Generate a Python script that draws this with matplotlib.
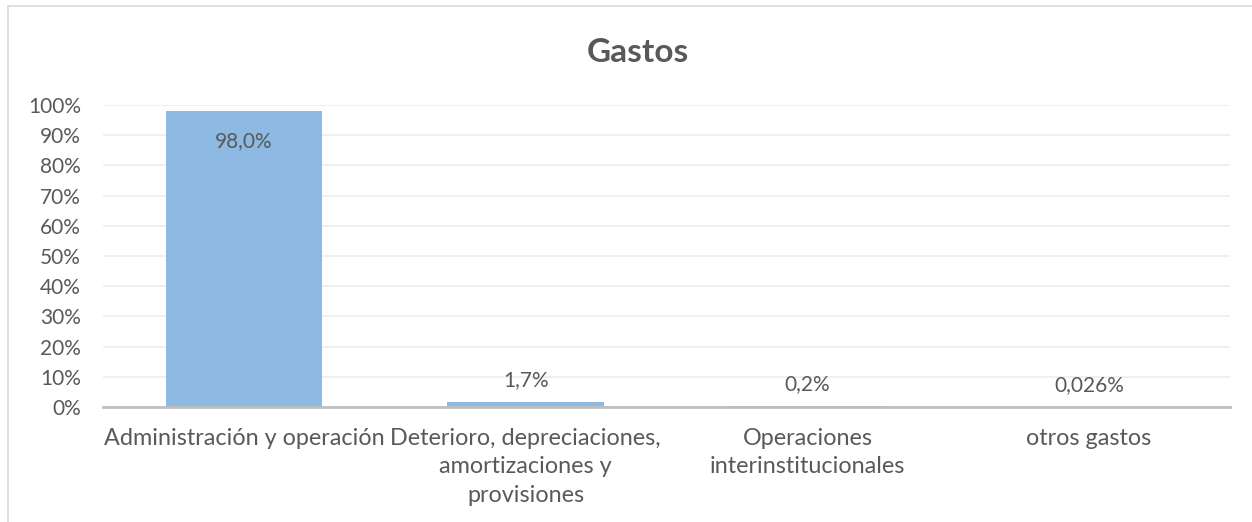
import matplotlib.pyplot as plt
from matplotlib.patches import Rectangle
from matplotlib.ticker import FuncFormatter

categorias = ["Administración y operación",
              "Deterioro, depreciaciones,\namortizaciones y\nprovisiones",
              "Operaciones\ninterinstitucionales",
              "otros gastos"]
valores = [98.0, 1.7, 0.2, 0.026]
etiquetas = ["98,0%", "1,7%", "0,2%", "0,026%"]

GRIS = "#595959"
AZUL = "#8DB9E2"
plt.rcParams['font.family'] = ['Lato', 'DejaVu Sans']

fig = plt.figure(figsize=(12.52, 5.22), dpi=100)
ax = fig.add_axes([103/1252, 1 - 407/522, 1127/1252, 302/522])

x = range(len(categorias))
ax.bar(x, valores, width=0.555, color=AZUL, zorder=2)
ax.set_xlim(-0.5, len(categorias) - 0.5)
ax.set_ylim(0, 100)
ax.set_yticks(range(0, 101, 10))
ax.yaxis.set_major_formatter(FuncFormatter(lambda v, _: f"{int(v)}%"))
ax.grid(axis='y', color="#EFEFEF", linewidth=1.3, zorder=0)
ax.set_xticks(list(x))
ax.set_xticklabels(categorias, fontsize=16.8, color=GRIS, linespacing=1.45, va='top')
ax.tick_params(axis='x', length=0, pad=15)
ax.tick_params(axis='y', length=0, labelsize=15, labelcolor=GRIS, pad=16)
for s in ['top', 'right', 'left']:
    ax.spines[s].set_visible(False)
ax.spines['bottom'].set_color("#BFBFBF")
ax.spines['bottom'].set_linewidth(2)
ax.spines['bottom'].set_zorder(3)

for i, (v, t) in enumerate(zip(valores, etiquetas)):
    if v > 50:
        ax.text(i, v - 6.5, t, ha='center', va='top', fontsize=15, color=GRIS, zorder=4)
    else:
        ax.text(i, v + 4, t, ha='center', va='bottom', fontsize=15, color=GRIS, zorder=4)

fig.text(638/1252, 1 - 52/522, "Gastos", ha='center', va='center',
         fontsize=24, fontweight='bold', color=GRIS)

# chart border (top and left visible)
fig.add_artist(Rectangle((8/1252, -0.01), 1.2, 1 - 6/522 + 0.01, transform=fig.transFigure,
                         fill=False, edgecolor="#D9D9D9", linewidth=1.2))

fig.savefig("out.png", dpi=100)
